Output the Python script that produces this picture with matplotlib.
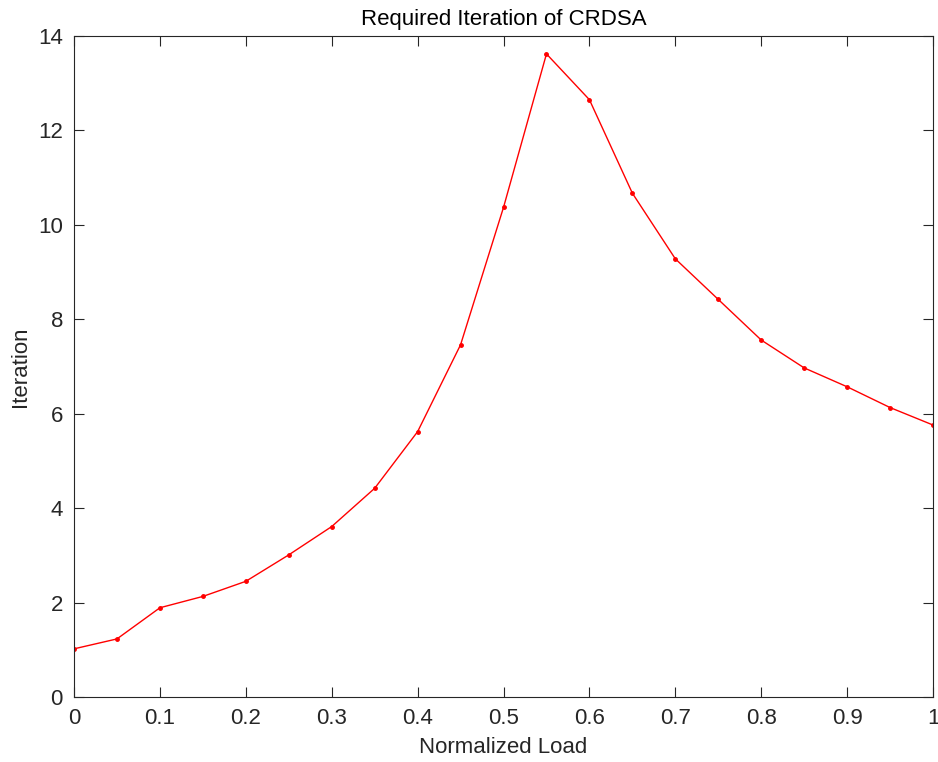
import numpy as np
import matplotlib.pyplot as plt

plt.rcParams['font.family'] = ['Liberation Sans', 'DejaVu Sans']

load = [0.0, 0.05, 0.1, 0.15, 0.2, 0.25, 0.3, 0.35, 0.4, 0.45, 0.5,
        0.55, 0.6, 0.65, 0.7, 0.75, 0.8, 0.85, 0.9, 0.95, 1.0]
iteration = [1.02, 1.23, 1.89, 2.13, 2.45, 3.01, 3.61, 4.42, 5.62, 7.46, 10.37,
             13.62, 12.65, 10.67, 9.28, 8.42, 7.56, 6.97, 6.57, 6.13, 5.76]

xticks = [0, 0.1, 0.2, 0.3, 0.4, 0.5, 0.6, 0.7, 0.8, 0.9, 1]
xlabels = ['0', '0.1', '0.2', '0.3', '0.4', '0.5', '0.6', '0.7', '0.8', '0.9', '1']
yticks = [0, 2, 4, 6, 8, 10, 12, 14]

fig = plt.figure(figsize=(9.38, 7.62), dpi=100)
ax = fig.add_axes([0.0789, 0.0853, 0.9158, 0.8675])

ax.plot(load, iteration, color='red', linewidth=1.0, marker='o', markersize=2.5)

ax.set_xlim(0, 1)
ax.set_ylim(0, 14)
ax.set_xticks(xticks)
ax.set_xticklabels(xlabels)
ax.set_yticks(yticks)

ax.tick_params(direction='in', top=True, right=True, length=7, width=0.8,
               labelsize=16, colors='#262626', pad=8)
for s in ax.spines.values():
    s.set_color('#262626')
    s.set_linewidth(0.8)

ax.set_xlabel('Normalized Load', fontsize=16, color='#262626', labelpad=6)
ax.set_ylabel('Iteration', fontsize=16, color='#262626', labelpad=5)
ax.set_title('Required Iteration of CRDSA', fontsize=16, color='black', pad=8)

fig.savefig('out.png', dpi=100)
